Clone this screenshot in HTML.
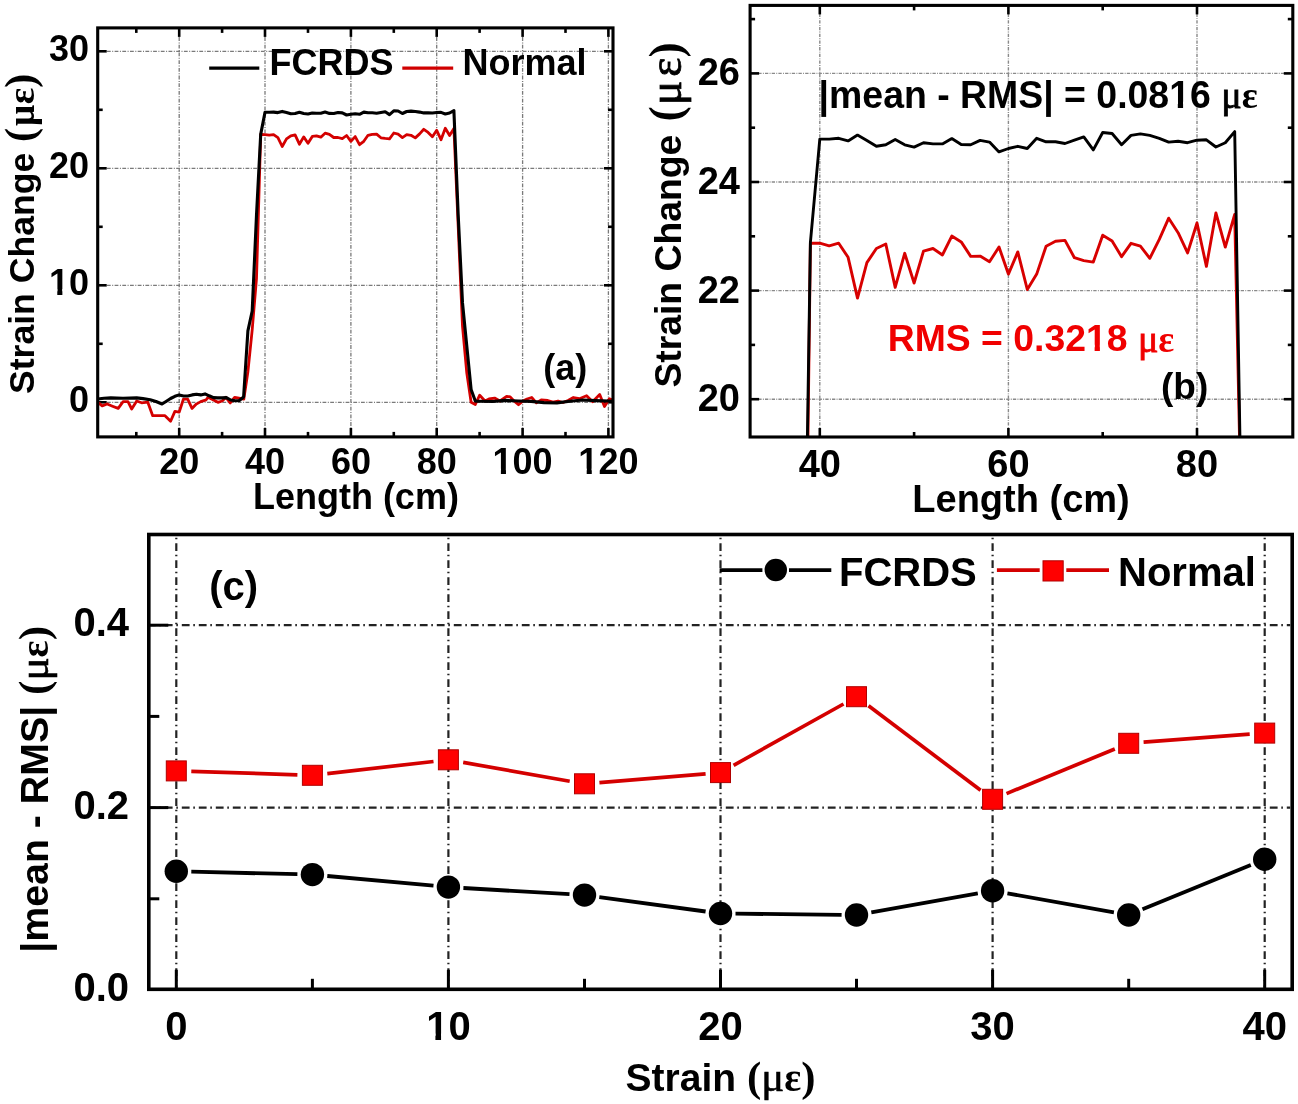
<!DOCTYPE html><html><head><meta charset="utf-8"><style>html,body{margin:0;padding:0;background:#fff;}svg{display:block;will-change:transform;}</style></head><body>
<svg width="1298" height="1104" viewBox="0 0 1298 1104">
<rect width="1298" height="1104" fill="#fff"/>
<defs>
<clipPath id="ca"><rect x="97.7" y="27.9" width="515.3" height="409.0"/></clipPath>
<clipPath id="cb"><rect x="750.1" y="5.4" width="542.6999999999999" height="431.6"/></clipPath>
</defs>
<line x1="179.2" y1="29.4" x2="179.2" y2="435.4" stroke="#7a7a7a" stroke-width="1.3" stroke-dasharray="3.8 1.5 1 1.4"/>
<line x1="265" y1="29.4" x2="265" y2="435.4" stroke="#7a7a7a" stroke-width="1.3" stroke-dasharray="3.8 1.5 1 1.4"/>
<line x1="350.9" y1="29.4" x2="350.9" y2="435.4" stroke="#7a7a7a" stroke-width="1.3" stroke-dasharray="3.8 1.5 1 1.4"/>
<line x1="436.7" y1="29.4" x2="436.7" y2="435.4" stroke="#7a7a7a" stroke-width="1.3" stroke-dasharray="3.8 1.5 1 1.4"/>
<line x1="522.6" y1="29.4" x2="522.6" y2="435.4" stroke="#7a7a7a" stroke-width="1.3" stroke-dasharray="3.8 1.5 1 1.4"/>
<line x1="608.4" y1="29.4" x2="608.4" y2="435.4" stroke="#7a7a7a" stroke-width="1.3" stroke-dasharray="3.8 1.5 1 1.4"/>
<line x1="99.2" y1="402.3" x2="611.5" y2="402.3" stroke="#7a7a7a" stroke-width="1.3" stroke-dasharray="3.8 1.5 1 1.4"/>
<line x1="99.2" y1="285.3" x2="611.5" y2="285.3" stroke="#7a7a7a" stroke-width="1.3" stroke-dasharray="3.8 1.5 1 1.4"/>
<line x1="99.2" y1="168.3" x2="611.5" y2="168.3" stroke="#7a7a7a" stroke-width="1.3" stroke-dasharray="3.8 1.5 1 1.4"/>
<line x1="99.2" y1="51.3" x2="611.5" y2="51.3" stroke="#7a7a7a" stroke-width="1.3" stroke-dasharray="3.8 1.5 1 1.4"/>
<line x1="819.8" y1="6.9" x2="819.8" y2="435.5" stroke="#8a8a8a" stroke-width="1.4" stroke-dasharray="3.3 1.3 0.9 1.2"/>
<line x1="1008.4" y1="6.9" x2="1008.4" y2="435.5" stroke="#8a8a8a" stroke-width="1.4" stroke-dasharray="3.3 1.3 0.9 1.2"/>
<line x1="1197" y1="6.9" x2="1197" y2="435.5" stroke="#8a8a8a" stroke-width="1.4" stroke-dasharray="3.3 1.3 0.9 1.2"/>
<line x1="751.6" y1="399.2" x2="1291.3" y2="399.2" stroke="#8a8a8a" stroke-width="1.4" stroke-dasharray="3.3 1.3 0.9 1.2"/>
<line x1="751.6" y1="290.6" x2="1291.3" y2="290.6" stroke="#8a8a8a" stroke-width="1.4" stroke-dasharray="3.3 1.3 0.9 1.2"/>
<line x1="751.6" y1="182" x2="1291.3" y2="182" stroke="#8a8a8a" stroke-width="1.4" stroke-dasharray="3.3 1.3 0.9 1.2"/>
<line x1="751.6" y1="73.4" x2="1291.3" y2="73.4" stroke="#8a8a8a" stroke-width="1.4" stroke-dasharray="3.3 1.3 0.9 1.2"/>
<line x1="176.3" y1="536.5" x2="176.3" y2="987.3" stroke="#222" stroke-width="2.2" stroke-dasharray="7.8 3.7 1.6 3.9" stroke-dashoffset="10.3"/>
<line x1="448.4" y1="536.5" x2="448.4" y2="987.3" stroke="#222" stroke-width="2.2" stroke-dasharray="7.8 3.7 1.6 3.9" stroke-dashoffset="10.3"/>
<line x1="720.5" y1="536.5" x2="720.5" y2="987.3" stroke="#222" stroke-width="2.2" stroke-dasharray="7.8 3.7 1.6 3.9" stroke-dashoffset="10.3"/>
<line x1="992.6" y1="536.5" x2="992.6" y2="987.3" stroke="#222" stroke-width="2.2" stroke-dasharray="7.8 3.7 1.6 3.9" stroke-dashoffset="10.3"/>
<line x1="1264.7" y1="536.5" x2="1264.7" y2="987.3" stroke="#222" stroke-width="2.2" stroke-dasharray="7.8 3.7 1.6 3.9" stroke-dashoffset="10.3"/>
<line x1="150.8" y1="807.6" x2="1290.2" y2="807.6" stroke="#222" stroke-width="2.2" stroke-dasharray="7.8 3.7 1.6 3.9" stroke-dashoffset="3"/>
<line x1="150.8" y1="625.2" x2="1290.2" y2="625.2" stroke="#222" stroke-width="2.2" stroke-dasharray="7.8 3.7 1.6 3.9" stroke-dashoffset="3"/>
<line x1="179.2" y1="436.9" x2="179.2" y2="427.9" stroke="#000" stroke-width="2.6" />
<line x1="179.2" y1="27.9" x2="179.2" y2="36.9" stroke="#000" stroke-width="2.6" />
<line x1="265" y1="436.9" x2="265" y2="427.9" stroke="#000" stroke-width="2.6" />
<line x1="265" y1="27.9" x2="265" y2="36.9" stroke="#000" stroke-width="2.6" />
<line x1="350.9" y1="436.9" x2="350.9" y2="427.9" stroke="#000" stroke-width="2.6" />
<line x1="350.9" y1="27.9" x2="350.9" y2="36.9" stroke="#000" stroke-width="2.6" />
<line x1="436.7" y1="436.9" x2="436.7" y2="427.9" stroke="#000" stroke-width="2.6" />
<line x1="436.7" y1="27.9" x2="436.7" y2="36.9" stroke="#000" stroke-width="2.6" />
<line x1="522.6" y1="436.9" x2="522.6" y2="427.9" stroke="#000" stroke-width="2.6" />
<line x1="522.6" y1="27.9" x2="522.6" y2="36.9" stroke="#000" stroke-width="2.6" />
<line x1="608.4" y1="436.9" x2="608.4" y2="427.9" stroke="#000" stroke-width="2.6" />
<line x1="608.4" y1="27.9" x2="608.4" y2="36.9" stroke="#000" stroke-width="2.6" />
<line x1="136.3" y1="436.9" x2="136.3" y2="431.9" stroke="#000" stroke-width="2.6" />
<line x1="136.3" y1="27.9" x2="136.3" y2="32.9" stroke="#000" stroke-width="2.6" />
<line x1="222.1" y1="436.9" x2="222.1" y2="431.9" stroke="#000" stroke-width="2.6" />
<line x1="222.1" y1="27.9" x2="222.1" y2="32.9" stroke="#000" stroke-width="2.6" />
<line x1="308" y1="436.9" x2="308" y2="431.9" stroke="#000" stroke-width="2.6" />
<line x1="308" y1="27.9" x2="308" y2="32.9" stroke="#000" stroke-width="2.6" />
<line x1="393.8" y1="436.9" x2="393.8" y2="431.9" stroke="#000" stroke-width="2.6" />
<line x1="393.8" y1="27.9" x2="393.8" y2="32.9" stroke="#000" stroke-width="2.6" />
<line x1="479.6" y1="436.9" x2="479.6" y2="431.9" stroke="#000" stroke-width="2.6" />
<line x1="479.6" y1="27.9" x2="479.6" y2="32.9" stroke="#000" stroke-width="2.6" />
<line x1="565.5" y1="436.9" x2="565.5" y2="431.9" stroke="#000" stroke-width="2.6" />
<line x1="565.5" y1="27.9" x2="565.5" y2="32.9" stroke="#000" stroke-width="2.6" />
<line x1="97.7" y1="402.3" x2="106.7" y2="402.3" stroke="#000" stroke-width="2.6" />
<line x1="613" y1="402.3" x2="604" y2="402.3" stroke="#000" stroke-width="2.6" />
<line x1="97.7" y1="285.3" x2="106.7" y2="285.3" stroke="#000" stroke-width="2.6" />
<line x1="613" y1="285.3" x2="604" y2="285.3" stroke="#000" stroke-width="2.6" />
<line x1="97.7" y1="168.3" x2="106.7" y2="168.3" stroke="#000" stroke-width="2.6" />
<line x1="613" y1="168.3" x2="604" y2="168.3" stroke="#000" stroke-width="2.6" />
<line x1="97.7" y1="51.3" x2="106.7" y2="51.3" stroke="#000" stroke-width="2.6" />
<line x1="613" y1="51.3" x2="604" y2="51.3" stroke="#000" stroke-width="2.6" />
<line x1="97.7" y1="343.8" x2="102.7" y2="343.8" stroke="#000" stroke-width="2.6" />
<line x1="613" y1="343.8" x2="608" y2="343.8" stroke="#000" stroke-width="2.6" />
<line x1="97.7" y1="226.8" x2="102.7" y2="226.8" stroke="#000" stroke-width="2.6" />
<line x1="613" y1="226.8" x2="608" y2="226.8" stroke="#000" stroke-width="2.6" />
<line x1="97.7" y1="109.8" x2="102.7" y2="109.8" stroke="#000" stroke-width="2.6" />
<line x1="613" y1="109.8" x2="608" y2="109.8" stroke="#000" stroke-width="2.6" />
<line x1="819.8" y1="437" x2="819.8" y2="428" stroke="#000" stroke-width="2.6" />
<line x1="819.8" y1="5.4" x2="819.8" y2="14.4" stroke="#000" stroke-width="2.6" />
<line x1="1008.4" y1="437" x2="1008.4" y2="428" stroke="#000" stroke-width="2.6" />
<line x1="1008.4" y1="5.4" x2="1008.4" y2="14.4" stroke="#000" stroke-width="2.6" />
<line x1="1197" y1="437" x2="1197" y2="428" stroke="#000" stroke-width="2.6" />
<line x1="1197" y1="5.4" x2="1197" y2="14.4" stroke="#000" stroke-width="2.6" />
<line x1="914.1" y1="437" x2="914.1" y2="432" stroke="#000" stroke-width="2.6" />
<line x1="914.1" y1="5.4" x2="914.1" y2="10.4" stroke="#000" stroke-width="2.6" />
<line x1="1102.7" y1="437" x2="1102.7" y2="432" stroke="#000" stroke-width="2.6" />
<line x1="1102.7" y1="5.4" x2="1102.7" y2="10.4" stroke="#000" stroke-width="2.6" />
<line x1="750.1" y1="399.2" x2="759.1" y2="399.2" stroke="#000" stroke-width="2.6" />
<line x1="1292.8" y1="399.2" x2="1283.8" y2="399.2" stroke="#000" stroke-width="2.6" />
<line x1="750.1" y1="290.6" x2="759.1" y2="290.6" stroke="#000" stroke-width="2.6" />
<line x1="1292.8" y1="290.6" x2="1283.8" y2="290.6" stroke="#000" stroke-width="2.6" />
<line x1="750.1" y1="182" x2="759.1" y2="182" stroke="#000" stroke-width="2.6" />
<line x1="1292.8" y1="182" x2="1283.8" y2="182" stroke="#000" stroke-width="2.6" />
<line x1="750.1" y1="73.4" x2="759.1" y2="73.4" stroke="#000" stroke-width="2.6" />
<line x1="1292.8" y1="73.4" x2="1283.8" y2="73.4" stroke="#000" stroke-width="2.6" />
<line x1="750.1" y1="344.9" x2="755.1" y2="344.9" stroke="#000" stroke-width="2.6" />
<line x1="1292.8" y1="344.9" x2="1287.8" y2="344.9" stroke="#000" stroke-width="2.6" />
<line x1="750.1" y1="236.3" x2="755.1" y2="236.3" stroke="#000" stroke-width="2.6" />
<line x1="1292.8" y1="236.3" x2="1287.8" y2="236.3" stroke="#000" stroke-width="2.6" />
<line x1="750.1" y1="127.7" x2="755.1" y2="127.7" stroke="#000" stroke-width="2.6" />
<line x1="1292.8" y1="127.7" x2="1287.8" y2="127.7" stroke="#000" stroke-width="2.6" />
<line x1="750.1" y1="19.1" x2="755.1" y2="19.1" stroke="#000" stroke-width="2.6" />
<line x1="1292.8" y1="19.1" x2="1287.8" y2="19.1" stroke="#000" stroke-width="2.6" />
<line x1="176.3" y1="989.3" x2="176.3" y2="969.8" stroke="#000" stroke-width="3" />
<line x1="448.4" y1="989.3" x2="448.4" y2="969.8" stroke="#000" stroke-width="3" />
<line x1="720.5" y1="989.3" x2="720.5" y2="969.8" stroke="#000" stroke-width="3" />
<line x1="992.6" y1="989.3" x2="992.6" y2="969.8" stroke="#000" stroke-width="3" />
<line x1="1264.7" y1="989.3" x2="1264.7" y2="969.8" stroke="#000" stroke-width="3" />
<line x1="312.4" y1="989.3" x2="312.4" y2="978.8" stroke="#000" stroke-width="3" />
<line x1="584.5" y1="989.3" x2="584.5" y2="978.8" stroke="#000" stroke-width="3" />
<line x1="856.5" y1="989.3" x2="856.5" y2="978.8" stroke="#000" stroke-width="3" />
<line x1="1128.7" y1="989.3" x2="1128.7" y2="978.8" stroke="#000" stroke-width="3" />
<line x1="148.8" y1="807.6" x2="168.3" y2="807.6" stroke="#000" stroke-width="3" />
<line x1="148.8" y1="625.2" x2="168.3" y2="625.2" stroke="#000" stroke-width="3" />
<line x1="148.8" y1="898.8" x2="159.3" y2="898.8" stroke="#000" stroke-width="3" />
<line x1="148.8" y1="716.4" x2="159.3" y2="716.4" stroke="#000" stroke-width="3" />
<g clip-path="url(#ca)">
<polyline points="97.7,402.2 102.2,405.9 107.1,404 112.5,406.2 118.2,408.4 123.1,401.6 128,401.6 131.7,409 136.7,401 141.6,402.8 147.8,402.2 152.7,415.7 165,415.7 170.6,421.3 174.9,411.4 179.2,412.1 183.4,399.2 187.7,399.2 192,408.4 196.3,404.1 200.7,401.6 206.2,399.8 208,397.3 212.5,399.5 217.9,402.3 222.2,401 225.9,397.3 230.2,402.9 234.6,397.3 237.6,397.9 241.3,398.6 243.8,399.2 247.9,371.9 252.2,329.8 256.5,278.3 260.7,134.4 265,134.7 269.3,135.2 273.6,134.7 277.9,137.7 282.2,146.5 286.5,138.9 290.8,135.8 295.1,134.9 299.4,144.2 303.7,136.9 308,143.3 312.3,136.4 316.5,135.8 320.8,137.2 325.1,133.2 329.4,134.4 333.7,137.5 338,137.5 342.3,138.7 346.6,135.5 350.9,141.3 355.2,136.6 359.5,144.7 363.8,141.3 368,135.3 372.3,134.3 376.6,134.1 380.9,137.8 385.2,138.4 389.5,138.8 393.8,133 398.1,134.2 402.4,137.6 406.7,134.7 411,135.3 415.3,137.9 419.6,133.9 423.8,129.3 428.1,132.4 432.4,136.8 436.7,130.3 441,139.7 445.3,128.2 449.6,135.5 453.9,128.5 458.2,226.8 462.5,326.2 466.8,373.1 471.1,402.3 475.3,404.5 479.7,395.2 485,401 489,399 494.6,398.1 500,401 506.6,396.3 510.2,396.9 514,401 518.5,404.7 523,401 527,399 531.7,397.5 536.4,402.9 541.2,399.9 547.8,400.5 553,402 558,401 563,402.5 568,400.5 573.4,397.5 579.4,398.7 586.6,395.7 592.6,401.7 599.7,394.6 604.5,406.5 609.3,398.7 613,400" fill="none" stroke="#d40000" stroke-width="2.8" stroke-linejoin="round" stroke-linecap="round" />
<polyline points="97.7,399 104,398.3 110.8,397.9 123,398.2 136.7,397.9 143,398.6 150.2,399.7 156,401.5 162,404 166,401.5 170.6,398.5 174.9,396.3 179.2,394.9 183.5,396 187.8,396 192.1,394.9 196.4,394.2 200.7,394.9 205,393.9 209.2,395.8 213.5,397.6 217.8,397.9 222.1,397.9 226.4,397.6 230.7,400 235,400.7 239.3,400.5 243.6,397 247.9,330.9 252.2,311 256.5,215.1 260.7,134.4 265,112.3 269.3,112.3 273.6,112.1 277.9,112.6 282.2,111.4 286.5,112.5 290.8,113.8 295.1,113.5 299.4,112.3 303.7,113.5 308,114 312.3,113 316.5,113.3 320.8,113.3 325.1,112.1 329.4,113.4 333.7,113.5 338,112.5 342.3,112.9 346.6,115 350.9,114.3 355.2,113.8 359.5,114.3 363.8,112.1 368,112.8 372.3,112.8 376.6,113.2 380.9,112.5 385.2,111.8 389.5,114.6 393.8,110.8 398.1,111 402.4,113.5 406.7,111.5 411,111.1 415.3,111.5 419.6,112.1 423.8,112.9 428.1,112.7 432.4,113 436.7,112.5 441,112.4 445.3,114 449.6,113 453.9,110.6 458.2,215.1 462.5,302.9 466.8,346.1 471.1,389.4 475.3,401.1 479.6,401.2 492.5,401.5 505.4,400.4 518.3,401 531.1,401.4 544,402.6 556.9,402.9 569.8,401.2 582.6,400 595.5,400.6 608.4,401 612.7,401.3" fill="none" stroke="#000" stroke-width="3.1" stroke-linejoin="round" stroke-linecap="round" />
</g>
<g clip-path="url(#cb)">
<polyline points="800.9,986 810.4,243.2 819.8,243.2 829.2,245.8 838.7,243.2 848.1,257.3 857.5,298.1 866.9,262.6 876.4,248.5 885.8,244 895.2,287.4 904.7,253.3 914.1,283 923.5,251.1 933,248.5 942.4,255 951.8,236.1 961.2,241.9 970.7,256.4 980.1,256.1 989.5,261.8 999,247 1008.4,274.1 1017.8,251.9 1027.3,289.5 1036.7,274.1 1046.1,246.2 1055.5,241.3 1065,240.4 1074.4,257.7 1083.8,260.6 1093.3,262.1 1102.7,235.2 1112.1,241 1121.6,256.7 1131,243.3 1140.4,246.2 1149.8,258.3 1159.3,239.4 1168.7,218.2 1178.1,232.7 1187.6,252.9 1197,223 1206.4,266.4 1215.9,213 1225.3,247.1 1234.7,214.4 1244.1,648" fill="none" stroke="#d80000" stroke-width="2.9" stroke-linejoin="round" stroke-linecap="round" />
<polyline points="800.9,861 810.4,242.3 819.8,139.1 829.2,139.1 838.7,138.3 848.1,140.9 857.5,135.1 866.9,140.4 876.4,146.2 885.8,144.8 895.2,139.5 904.7,144.8 914.1,147.1 923.5,142.7 933,143.9 942.4,143.9 951.8,138.6 961.2,144.5 970.7,144.8 980.1,140.4 989.5,142.1 999,151.9 1008.4,148.5 1017.8,146.3 1027.3,148.5 1036.7,138.3 1046.1,141.8 1055.5,141.8 1065,143.5 1074.4,140.2 1083.8,136.9 1093.3,149.9 1102.7,132.5 1112.1,133.5 1121.6,144.7 1131,135.4 1140.4,133.9 1149.8,135.4 1159.3,138.3 1168.7,142.1 1178.1,141.2 1187.6,142.7 1197,140.2 1206.4,139.8 1215.9,147 1225.3,142.7 1234.7,131.6 1244.1,682" fill="none" stroke="#000" stroke-width="2.9" stroke-linejoin="round" stroke-linecap="round" />
</g>
<line x1="191.3" y1="771.4" x2="297.4" y2="774.8" stroke="#d40000" stroke-width="3.7" />
<line x1="327.3" y1="773.6" x2="433.5" y2="761.5" stroke="#d40000" stroke-width="3.7" />
<line x1="463.2" y1="762.4" x2="569.7" y2="781.2" stroke="#d40000" stroke-width="3.7" />
<line x1="599.4" y1="782.6" x2="705.6" y2="773.8" stroke="#d40000" stroke-width="3.7" />
<line x1="733.6" y1="765.3" x2="843.5" y2="704" stroke="#d40000" stroke-width="3.7" />
<line x1="868.5" y1="705.7" x2="980.6" y2="790.3" stroke="#d40000" stroke-width="3.7" />
<line x1="1006.5" y1="793.6" x2="1114.8" y2="749" stroke="#d40000" stroke-width="3.7" />
<line x1="1143.6" y1="742.2" x2="1249.7" y2="734.2" stroke="#d40000" stroke-width="3.7" />
<line x1="191.3" y1="871.7" x2="297.4" y2="874.2" stroke="#000" stroke-width="3.8" />
<line x1="327.3" y1="876" x2="433.5" y2="885.7" stroke="#000" stroke-width="3.8" />
<line x1="463.4" y1="888" x2="569.5" y2="894.2" stroke="#000" stroke-width="3.8" />
<line x1="599.3" y1="897.1" x2="705.6" y2="911.5" stroke="#000" stroke-width="3.8" />
<line x1="735.5" y1="913.7" x2="841.6" y2="914.8" stroke="#000" stroke-width="3.8" />
<line x1="871.3" y1="912.4" x2="977.8" y2="893.3" stroke="#000" stroke-width="3.8" />
<line x1="1007.4" y1="893.3" x2="1113.9" y2="912.4" stroke="#000" stroke-width="3.8" />
<line x1="1142.5" y1="909.3" x2="1250.8" y2="864.9" stroke="#000" stroke-width="3.8" />
<rect x="166.3" y="760.9" width="20" height="20" fill="#ff0000" stroke="#b00000" stroke-width="1"/>
<rect x="302.4" y="765.3" width="20" height="20" fill="#ff0000" stroke="#b00000" stroke-width="1"/>
<rect x="438.4" y="749.8" width="20" height="20" fill="#ff0000" stroke="#b00000" stroke-width="1"/>
<rect x="574.5" y="773.8" width="20" height="20" fill="#ff0000" stroke="#b00000" stroke-width="1"/>
<rect x="710.5" y="762.6" width="20" height="20" fill="#ff0000" stroke="#b00000" stroke-width="1"/>
<rect x="846.5" y="686.7" width="20" height="20" fill="#ff0000" stroke="#b00000" stroke-width="1"/>
<rect x="982.6" y="789.3" width="20" height="20" fill="#ff0000" stroke="#b00000" stroke-width="1"/>
<rect x="1118.7" y="733.3" width="20" height="20" fill="#ff0000" stroke="#b00000" stroke-width="1"/>
<rect x="1254.7" y="723.1" width="20" height="20" fill="#ff0000" stroke="#b00000" stroke-width="1"/>
<circle cx="176.3" cy="871.3" r="11.7" fill="#000"/>
<circle cx="312.4" cy="874.6" r="11.7" fill="#000"/>
<circle cx="448.4" cy="887.1" r="11.7" fill="#000"/>
<circle cx="584.5" cy="895.1" r="11.7" fill="#000"/>
<circle cx="720.5" cy="913.5" r="11.7" fill="#000"/>
<circle cx="856.5" cy="915" r="11.7" fill="#000"/>
<circle cx="992.6" cy="890.7" r="11.7" fill="#000"/>
<circle cx="1128.7" cy="915" r="11.7" fill="#000"/>
<circle cx="1264.7" cy="859.2" r="11.7" fill="#000"/>
<rect x="97.7" y="27.9" width="515.3" height="409" fill="none" stroke="#000" stroke-width="3.1"/>
<rect x="750.1" y="5.4" width="542.7" height="431.6" fill="none" stroke="#000" stroke-width="3.1"/>
<rect x="148.8" y="534.5" width="1143.4" height="454.8" fill="none" stroke="#000" stroke-width="3.6"/>
<line x1="209.2" y1="68.2" x2="259.3" y2="68.2" stroke="#000" stroke-width="3.2" />
<text x="269.5" y="75.4" font-size="36" text-anchor="start" fill="#000" font-weight="bold" font-family="Liberation Sans" >FCRDS</text>
<line x1="402.3" y1="68.2" x2="453.2" y2="68.2" stroke="#d00000" stroke-width="3.2" />
<text x="462.5" y="75.4" font-size="36" text-anchor="start" fill="#000" font-weight="bold" font-family="Liberation Sans" >Normal</text>
<line x1="719.6" y1="570.1" x2="762.4" y2="570.1" stroke="#000" stroke-width="3.7" />
<line x1="789" y1="570.1" x2="831.3" y2="570.1" stroke="#000" stroke-width="3.7" />
<circle cx="775.8" cy="570" r="11.2" fill="#000"/>
<text x="839" y="586.2" font-size="40" text-anchor="start" fill="#000" font-weight="bold" font-family="Liberation Sans" >FCRDS</text>
<line x1="996.9" y1="570.2" x2="1039.7" y2="570.2" stroke="#d40000" stroke-width="3.7" />
<line x1="1066.3" y1="570.2" x2="1109" y2="570.2" stroke="#d40000" stroke-width="3.7" />
<rect x="1043" y="560.8" width="20.2" height="20.2" fill="#ff0000" stroke="#b00000" stroke-width="1"/>
<text x="1118" y="586.2" font-size="40" text-anchor="start" fill="#000" font-weight="bold" font-family="Liberation Sans" >Normal</text>
<text x="89" y="411.8" font-size="36" text-anchor="end" fill="#000" font-weight="bold" font-family="Liberation Sans" >0</text>
<text x="89" y="294.8" font-size="36" text-anchor="end" fill="#000" font-weight="bold" font-family="Liberation Sans" >10</text>
<text x="89" y="177.8" font-size="36" text-anchor="end" fill="#000" font-weight="bold" font-family="Liberation Sans" >20</text>
<text x="89" y="60.8" font-size="36" text-anchor="end" fill="#000" font-weight="bold" font-family="Liberation Sans" >30</text>
<text x="179.2" y="474.4" font-size="36" text-anchor="middle" fill="#000" font-weight="bold" font-family="Liberation Sans" >20</text>
<text x="265" y="474.4" font-size="36" text-anchor="middle" fill="#000" font-weight="bold" font-family="Liberation Sans" >40</text>
<text x="350.9" y="474.4" font-size="36" text-anchor="middle" fill="#000" font-weight="bold" font-family="Liberation Sans" >60</text>
<text x="436.7" y="474.4" font-size="36" text-anchor="middle" fill="#000" font-weight="bold" font-family="Liberation Sans" >80</text>
<text x="522.6" y="474.4" font-size="36" text-anchor="middle" fill="#000" font-weight="bold" font-family="Liberation Sans" >100</text>
<text x="608.4" y="474.4" font-size="36" text-anchor="middle" fill="#000" font-weight="bold" font-family="Liberation Sans" >120</text>
<text x="355.9" y="508.9" font-size="36" text-anchor="middle" fill="#000" font-weight="bold" font-family="Liberation Sans" >Length (cm)</text>
<text x="0" y="0" font-size="35.6" text-anchor="start" fill="#000" font-weight="bold" font-family="Liberation Sans" transform="translate(33.5,394) rotate(-90)">Strain Change <tspan dx="1" font-family="Liberation Serif" font-weight="bold" font-size="1.18em">(</tspan><tspan dx="2" font-family="Liberation Serif" font-weight="bold" font-size="1.05em">&#956;</tspan><tspan dx="0.5" font-family="Liberation Serif" font-weight="bold" font-size="1.08em">&#949;</tspan><tspan dx="0" font-family="Liberation Serif" font-weight="bold" font-size="1.18em">)</tspan></text>
<text x="565.2" y="380.1" font-size="36" text-anchor="middle" fill="#000" font-weight="bold" font-family="Liberation Sans" >(a)</text>
<text x="740" y="411.2" font-size="38" text-anchor="end" fill="#000" font-weight="bold" font-family="Liberation Sans" >20</text>
<text x="740" y="302.6" font-size="38" text-anchor="end" fill="#000" font-weight="bold" font-family="Liberation Sans" >22</text>
<text x="740" y="194" font-size="38" text-anchor="end" fill="#000" font-weight="bold" font-family="Liberation Sans" >24</text>
<text x="740" y="85.4" font-size="38" text-anchor="end" fill="#000" font-weight="bold" font-family="Liberation Sans" >26</text>
<text x="819.8" y="476.5" font-size="38" text-anchor="middle" fill="#000" font-weight="bold" font-family="Liberation Sans" >40</text>
<text x="1008.4" y="476.5" font-size="38" text-anchor="middle" fill="#000" font-weight="bold" font-family="Liberation Sans" >60</text>
<text x="1197" y="476.5" font-size="38" text-anchor="middle" fill="#000" font-weight="bold" font-family="Liberation Sans" >80</text>
<text x="1021" y="512" font-size="38" text-anchor="middle" fill="#000" font-weight="bold" font-family="Liberation Sans" >Length (cm)</text>
<text x="0" y="0" font-size="37.3" text-anchor="start" fill="#000" font-weight="bold" font-family="Liberation Sans" transform="translate(680.5,387.6) rotate(-90)">Strain Change <tspan dx="3" font-family="Liberation Serif" font-weight="bold" font-size="1.22em">(</tspan><tspan dx="1" font-family="Liberation Serif" font-weight="normal" font-size="1.23em" stroke="#000" stroke-width="0.8">&#956;</tspan><tspan dx="4" font-family="Liberation Serif" font-weight="normal" font-size="1.22em" stroke="#000" stroke-width="0.8">&#949;</tspan><tspan dx="0" font-family="Liberation Serif" font-weight="bold" font-size="1.22em">)</tspan></text>
<text x="0" y="0" font-size="38" text-anchor="start" fill="#000" font-weight="bold" font-family="Liberation Sans" transform="translate(818.6,107.8) scale(0.985,1)">|mean - RMS| = 0.0816 <tspan font-family="Liberation Serif" font-weight="normal" font-size="1.02em" stroke="#000" stroke-width="0.8">&#956;</tspan><tspan font-family="Liberation Serif" font-weight="bold" font-size="1.0em">&#949;</tspan></text>
<text x="0" y="0" font-size="37" text-anchor="start" fill="#f00000" font-weight="bold" font-family="Liberation Sans" transform="translate(887.7,350.7) scale(1.01,1)">RMS = 0.3218 <tspan dy="1.5" font-family="Liberation Serif" font-weight="normal" font-size="1.02em" stroke="#f00000" stroke-width="0.8">&#956;</tspan><tspan font-family="Liberation Serif" font-weight="bold" font-size="1.0em">&#949;</tspan></text>
<text x="1184.6" y="398.5" font-size="37" text-anchor="middle" fill="#000" font-weight="bold" font-family="Liberation Sans" >(b)</text>
<text x="129" y="1001" font-size="40" text-anchor="end" fill="#000" font-weight="bold" font-family="Liberation Sans" >0.0</text>
<text x="129" y="818.6" font-size="40" text-anchor="end" fill="#000" font-weight="bold" font-family="Liberation Sans" >0.2</text>
<text x="129" y="636.2" font-size="40" text-anchor="end" fill="#000" font-weight="bold" font-family="Liberation Sans" >0.4</text>
<text x="176.3" y="1040" font-size="40" text-anchor="middle" fill="#000" font-weight="bold" font-family="Liberation Sans" >0</text>
<text x="448.4" y="1040" font-size="40" text-anchor="middle" fill="#000" font-weight="bold" font-family="Liberation Sans" >10</text>
<text x="720.5" y="1040" font-size="40" text-anchor="middle" fill="#000" font-weight="bold" font-family="Liberation Sans" >20</text>
<text x="992.6" y="1040" font-size="40" text-anchor="middle" fill="#000" font-weight="bold" font-family="Liberation Sans" >30</text>
<text x="1264.7" y="1040" font-size="40" text-anchor="middle" fill="#000" font-weight="bold" font-family="Liberation Sans" >40</text>
<text x="720.5" y="1090.5" font-size="39" text-anchor="middle" fill="#000" font-weight="bold" font-family="Liberation Sans" >Strain <tspan font-family="Liberation Serif" font-weight="bold" font-size="1.1em">(</tspan><tspan font-family="Liberation Serif" font-weight="normal" font-size="1.1em" stroke="#000" stroke-width="0.6">&#956;</tspan><tspan font-family="Liberation Serif" font-weight="bold" font-size="1.02em">&#949;</tspan><tspan font-family="Liberation Serif" font-weight="bold" font-size="1.1em">)</tspan></text>
<text x="0" y="0" font-size="39.3" text-anchor="middle" fill="#000" font-weight="bold" font-family="Liberation Sans" transform="translate(47.7,789.3) rotate(-90)">|mean - RMS| <tspan font-family="Liberation Serif" font-weight="bold" font-size="1.1em">(</tspan><tspan font-family="Liberation Serif" font-weight="normal" font-size="1.1em" stroke="#000" stroke-width="0.6">&#956;</tspan><tspan font-family="Liberation Serif" font-weight="bold" font-size="1.02em">&#949;</tspan><tspan font-family="Liberation Serif" font-weight="bold" font-size="1.1em">)</tspan></text>
<text x="233.7" y="599.5" font-size="40" text-anchor="middle" fill="#000" font-weight="bold" font-family="Liberation Sans" >(c)</text>
<rect x="49.48" y="289.00" width="7.80" height="6.86" fill="#fff"/>
<rect x="62.37" y="289.00" width="6.36" height="6.86" fill="#fff"/>
<rect x="493.09" y="468.60" width="7.80" height="6.86" fill="#fff"/>
<rect x="505.97" y="468.60" width="6.36" height="6.86" fill="#fff"/>
<rect x="578.89" y="468.60" width="7.80" height="6.86" fill="#fff"/>
<rect x="591.77" y="468.60" width="6.36" height="6.86" fill="#fff"/>
<rect x="1169.69" y="101.68" width="8.11" height="7.24" fill="#fff"/>
<rect x="1183.08" y="101.68" width="6.62" height="7.24" fill="#fff"/>
<rect x="1086.52" y="344.74" width="8.10" height="7.05" fill="#fff"/>
<rect x="1099.90" y="344.74" width="6.61" height="7.05" fill="#fff"/>
<rect x="426.74" y="1033.55" width="8.67" height="7.62" fill="#fff"/>
<rect x="441.05" y="1033.55" width="7.07" height="7.62" fill="#fff"/>
</svg></body></html>
